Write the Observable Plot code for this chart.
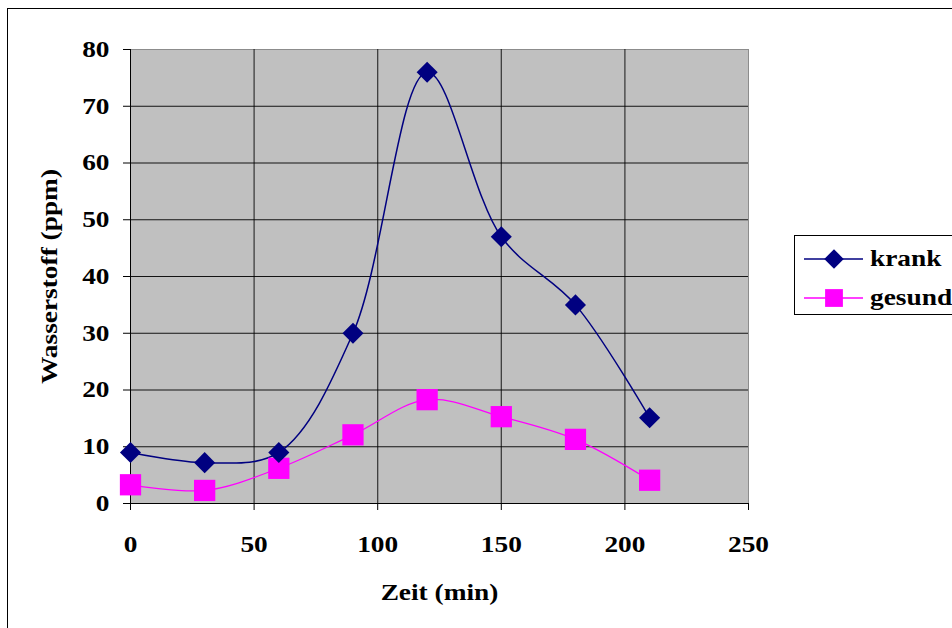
<!DOCTYPE html>
<html>
<head>
<meta charset="utf-8">
<script src="https://cdn.jsdelivr.net/npm/d3@7"></script>
<script src="https://cdn.jsdelivr.net/npm/@observablehq/plot@0.6"></script>
<style>
  html, body { margin: 0; padding: 0; background: #fff; overflow: hidden; }
  #wrap { position: relative; width: 952px; height: 628px; overflow: hidden; }
  #frame { position: absolute; left: 7px; top: 8px; width: 980px; height: 660px; border: 1px solid #000; box-sizing: border-box; pointer-events: none; }
  #legend { position: absolute; left: 794px; top: 235px; width: 180px; height: 80px; border: 1px solid #000; box-sizing: border-box; background: #fff; }
  #legend .row { position: absolute; left: 0; height: 30px; display: flex; align-items: center; }
  #legend svg { display: block; }
  #chart { position: absolute; left: 0; top: 0; }
</style>
</head>
<body>
<div id="wrap">
  <div id="chart"></div>
  <div id="frame"></div>
  <div id="legend"></div>
</div>
<script>
const times = [0, 30, 60, 90, 120, 150, 180, 210];
const krank = [9, 7.2, 9, 30, 76, 47, 35, 15.1];
const gesund = [3.3, 2.3, 6.2, 12.1, 18.3, 15.3, 11.3, 4.1];
const seriesNames = ["krank", "gesund"];
const seriesColors = ["#000080", "#ff00ff"];
const xTicks = [0, 50, 100, 150, 200, 250];
const yTicks = [0, 10, 20, 30, 40, 50, 60, 70, 80];

const data = [];
times.forEach((t, i) => {
  data.push({t, v: krank[i], s: seriesNames[0]});
  data.push({t, v: gesund[i], s: seriesNames[1]});
});
const kData = data.filter(d => d.s === "krank");
const gData = data.filter(d => d.s === "gesund");

const FF = "Liberation Serif";
const FS = 23;
const STRETCH = 1.19;
const txt = {fontFamily: FF, fontSize: FS, fontWeight: "bold"};

const chart = Plot.plot({
  width: 952,
  height: 628,
  marginLeft: 130,
  marginRight: 204,
  marginTop: 49,
  marginBottom: 125,
  style: {fontFamily: FF, fontWeight: "bold", fontSize: FS + "px", background: "transparent", overflow: "visible"},
  x: {domain: [0, 250], ticks: xTicks},
  y: {domain: [0, 80], ticks: yTicks},
  marks: [
    Plot.frame({fill: "#c0c0c0", stroke: "#8c8c8c"}),
    Plot.gridX(xTicks.filter(d => d > 0 && d < 250), {stroke: "#1a1a1a", strokeOpacity: 0.85, strokeWidth: 1.2}),
    Plot.gridY(yTicks.filter(d => d > 0 && d < 80), {stroke: "#000", strokeOpacity: 0.9, strokeWidth: 1}),
    Plot.ruleX([0], {stroke: "#000"}),
    Plot.ruleY([0], {stroke: "#000"}),
    Plot.axisY(yTicks, {tickSize: 7, tickPadding: 14, label: null, ...txt}),
    Plot.axisX(xTicks, {tickSize: 7, tickPadding: 25, label: null, ...txt}),
    Plot.text(["Zeit (min)"], {frameAnchor: "bottom", dy: 89, lineAnchor: "middle", textAnchor: "middle", ...txt}),
    Plot.text(["Wasserstoff (ppm)"], {frameAnchor: "left", dx: -81, rotate: -90, lineAnchor: "middle", textAnchor: "middle", ...txt}),
    Plot.line(gData, {x: "t", y: "v", stroke: seriesColors[1], strokeWidth: 1.3, curve: "catmull-rom"}),
    Plot.line(kData, {x: "t", y: "v", stroke: seriesColors[0], strokeWidth: 1.5, curve: "catmull-rom"}),
    Plot.dot(gData, {x: "t", y: "v", symbol: "square", r: 12, fill: seriesColors[1], stroke: "none"}),
    Plot.dot(kData, {x: "t", y: "v", symbol: "diamond2", r: 9.5, fill: seriesColors[0], stroke: "none"})
  ]
});
// widen text horizontally like the original (stretched Times glyphs), keeping each text's anchor point fixed
chart.querySelectorAll("text").forEach(t => {
  const tr = t.getAttribute("transform") || "";
  const ax = parseFloat(t.getAttribute("x")) || 0;
  t.setAttribute("transform", `${tr} translate(${ax},0) scale(${STRETCH},1) translate(${-ax},0)`.trim());
});
document.getElementById("chart").appendChild(chart);

// legend
const legend = document.getElementById("legend");
const sizes = [9.5, 12];
seriesNames.forEach((name, i) => {
  const row = document.createElement("div");
  row.className = "row";
  row.style.top = (8 + i * 39) + "px";
  const svg = d3.create("svg").attr("width", 70).attr("height", 30);
  svg.append("line").attr("x1", 9).attr("x2", 68).attr("y1", 15).attr("y2", 15)
    .attr("stroke", seriesColors[i]).attr("stroke-width", 1.5);
  const sym = i === 0 ? d3.symbolDiamond2 : d3.symbolSquare;
  svg.append("path").attr("transform", "translate(39,15)")
    .attr("d", d3.symbol(sym, Math.PI * sizes[i] * sizes[i] * (i === 0 ? 0.85 : 0.7))())
    .attr("fill", seriesColors[i]);
  row.appendChild(svg.node());
  const span = document.createElement("span");
  span.textContent = name;
  span.setAttribute("style", `margin-left:5px;font-family:'Liberation Serif';font-weight:bold;font-size:${FS}px;display:inline-block;transform:scaleX(${STRETCH});transform-origin:left center`);
  row.appendChild(span);
  legend.appendChild(row);
});
</script>
</body>
</html>
